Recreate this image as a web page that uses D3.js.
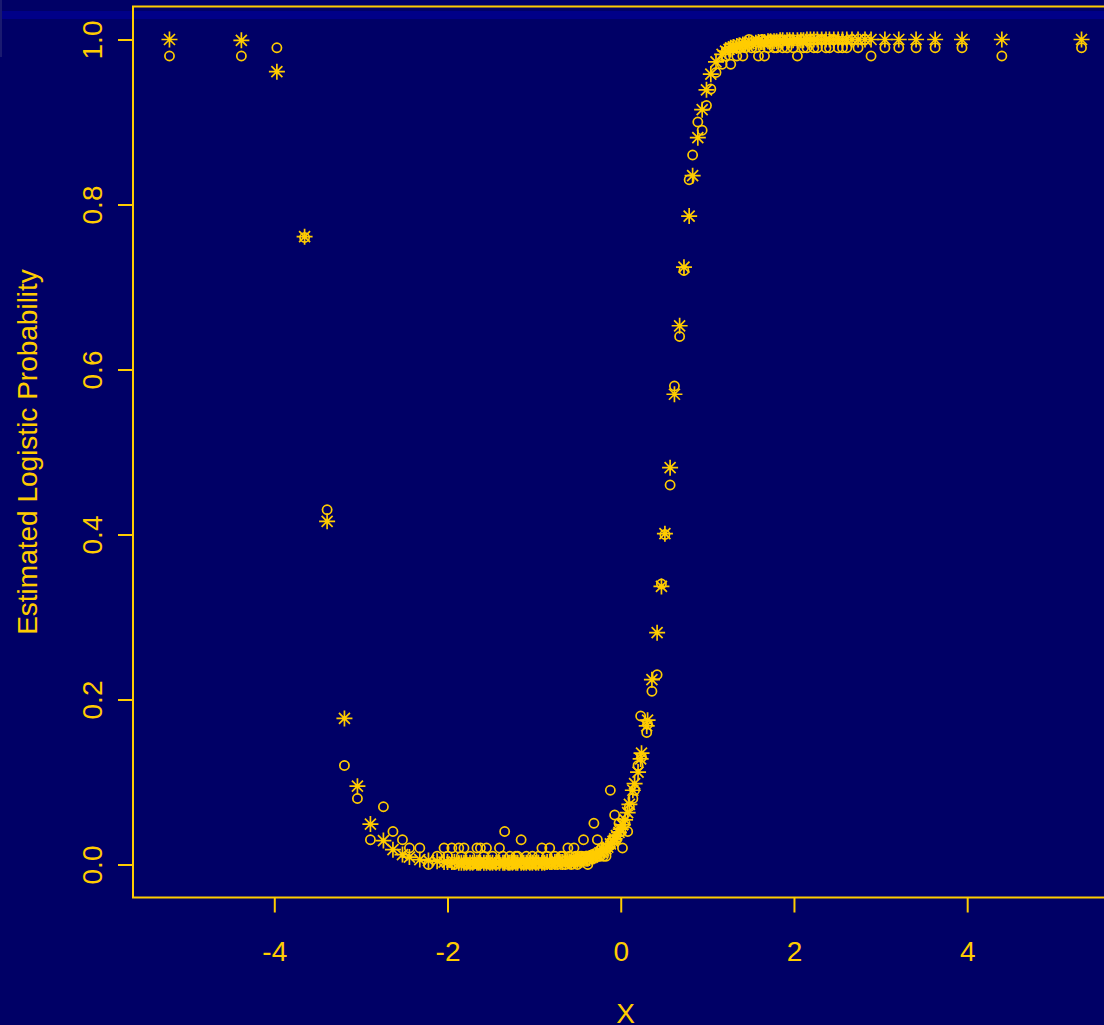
<!DOCTYPE html>
<meta charset="utf-8">
<style>
  body { margin: 0; background: #000066; }
  svg { display: block; }
</style>
<svg width="1104" height="1025"></svg>
<script src="https://d3js.org/d3.v7.min.js"></script>
<script>
// x values, fitted logistic probability (asterisks), observed proportion (circles)
var xValues = [
  -5.21, -4.38, -3.97, -3.65, -3.39, -3.19, -3.04, -2.89, -2.74, -2.63,
  -2.52, -2.44, -2.32, -2.22, -2.12, -2.04, -2.00, -1.95, -1.92, -1.87,
  -1.84, -1.81, -1.78, -1.74, -1.71, -1.66, -1.64, -1.62, -1.58, -1.55,
  -1.51, -1.48, -1.44, -1.40, -1.36, -1.34, -1.30, -1.28, -1.25, -1.21,
  -1.19, -1.15, -1.12, -1.09, -1.05, -1.02, -0.98, -0.95, -0.91, -0.88,
  -0.85, -0.82, -0.80, -0.76, -0.73, -0.69, -0.67, -0.64, -0.61, -0.59,
  -0.57, -0.54, -0.52, -0.50, -0.47, -0.45, -0.43, -0.40, -0.38, -0.36,
  -0.33, -0.31, -0.29, -0.27, -0.24, -0.22, -0.20, -0.17, -0.15, -0.12,
  -0.09, -0.07, -0.05, -0.02, 0.00, 0.02, 0.05, 0.08, 0.10, 0.14,
  0.16, 0.20, 0.23, 0.24, 0.30, 0.31, 0.36, 0.42, 0.47, 0.51,
  0.57, 0.62, 0.68, 0.73, 0.79, 0.83, 0.89, 0.94, 0.99, 1.04,
  1.10, 1.17, 1.21, 1.25, 1.27, 1.30, 1.34, 1.37, 1.41, 1.44,
  1.48, 1.51, 1.56, 1.59, 1.63, 1.66, 1.70, 1.73, 1.77, 1.80,
  1.84, 1.87, 1.92, 1.95, 1.99, 2.04, 2.08, 2.11, 2.15, 2.19,
  2.23, 2.27, 2.32, 2.37, 2.41, 2.46, 2.51, 2.56, 2.61, 2.67,
  2.74, 2.82, 2.89, 3.05, 3.21, 3.41, 3.63, 3.94, 4.40, 5.32
];
var fitted = [
  1.000, 0.999, 0.961, 0.761, 0.416, 0.177, 0.095, 0.049, 0.029, 0.018,
  0.012, 0.009, 0.006, 0.005, 0.004, 0.003, 0.003, 0.003, 0.003, 0.002,
  0.002, 0.002, 0.002, 0.002, 0.002, 0.002, 0.002, 0.002, 0.002, 0.002,
  0.002, 0.002, 0.002, 0.002, 0.002, 0.002, 0.002, 0.002, 0.002, 0.002,
  0.002, 0.002, 0.002, 0.002, 0.002, 0.002, 0.002, 0.002, 0.002, 0.002,
  0.003, 0.003, 0.003, 0.003, 0.003, 0.003, 0.003, 0.003, 0.004, 0.004,
  0.004, 0.004, 0.005, 0.005, 0.005, 0.006, 0.006, 0.007, 0.007, 0.008,
  0.009, 0.010, 0.011, 0.012, 0.014, 0.015, 0.017, 0.019, 0.021, 0.025,
  0.028, 0.031, 0.035, 0.039, 0.043, 0.048, 0.054, 0.063, 0.073, 0.090,
  0.098, 0.112, 0.128, 0.135, 0.168, 0.175, 0.224, 0.281, 0.337, 0.401,
  0.481, 0.570, 0.653, 0.724, 0.786, 0.835, 0.881, 0.915, 0.939, 0.958,
  0.973, 0.982, 0.986, 0.988, 0.990, 0.991, 0.992, 0.993, 0.994, 0.995,
  0.995, 0.996, 0.996, 0.997, 0.997, 0.997, 0.998, 0.998, 0.998, 0.998,
  0.999, 0.999, 0.999, 0.999, 0.999, 0.999, 0.999, 0.999, 1.000, 1.000,
  1.000, 1.000, 1.000, 1.000, 1.000, 1.000, 1.000, 1.000, 1.000, 1.000,
  1.000, 1.000, 1.000, 1.000, 1.000, 1.000, 1.000, 1.000, 1.000, 1.000
];
var observed = [
  0.98, 0.98, 0.99, 0.76, 0.43, 0.12, 0.08, 0.03, 0.07, 0.04,
  0.03, 0.02, 0.02, 0.00, 0.01, 0.02, 0.01, 0.02, 0.00, 0.02,
  0.01, 0.02, 0.00, 0.01, 0.00, 0.02, 0.00, 0.02, 0.01, 0.02,
  0.00, 0.01, 0.00, 0.02, 0.01, 0.04, 0.00, 0.01, 0.00, 0.01,
  0.01, 0.03, 0.00, 0.01, 0.00, 0.01, 0.00, 0.01, 0.02, 0.00,
  0.01, 0.02, 0.00, 0.01, 0.00, 0.01, 0.01, 0.00, 0.02, 0.01,
  0.00, 0.02, 0.01, 0.00, 0.01, 0.01, 0.03, 0.01, 0.00, 0.01,
  0.01, 0.05, 0.01, 0.03, 0.01, 0.02, 0.01, 0.01, 0.02, 0.09,
  0.03, 0.06, 0.03, 0.05, 0.04, 0.02, 0.05, 0.04, 0.07, 0.08,
  0.09, 0.12, 0.18, 0.13, 0.16, 0.17, 0.21, 0.23, 0.34, 0.40,
  0.46, 0.58, 0.64, 0.72, 0.83, 0.86, 0.90, 0.89, 0.92, 0.94,
  0.96, 0.97, 0.98, 0.99, 0.97, 0.99, 0.98, 0.99, 0.98, 0.99,
  1.00, 0.99, 0.99, 0.98, 1.00, 0.98, 0.99, 1.00, 0.99, 0.99,
  1.00, 0.99, 0.99, 1.00, 0.99, 0.98, 1.00, 0.99, 0.99, 1.00,
  0.99, 0.99, 1.00, 0.99, 0.99, 1.00, 0.99, 0.99, 0.99, 1.00,
  0.99, 1.00, 0.98, 0.99, 0.99, 0.99, 0.99, 0.99, 0.98, 0.99
];
var xTicks = [-4, -2, 0, 2, 4];
var yTicks = [0.0, 0.2, 0.4, 0.6, 0.8, 1.0];

var gold = "#FFCC00";
var svg = d3.select("svg");

svg.append("rect").attr("width", 1104).attr("height", 1025).attr("fill", "#000066");
// lighter strip near the top of the original capture
svg.append("rect").attr("x", 0).attr("y", 11).attr("width", 1104).attr("height", 8).attr("fill", "#000088");
svg.append("rect").attr("x", 0).attr("y", 0).attr("width", 2).attr("height", 57).attr("fill", "#1a1a70");

var plotLeft = 133, plotRight = 1118, plotTop = 6.5, plotBottom = 897.5;

var xExt = d3.extent(xValues), xPad = (xExt[1] - xExt[0]) * 0.04;
var x = d3.scaleLinear().domain([xExt[0] - xPad, xExt[1] + xPad]).range([plotLeft, plotRight]);
var y = d3.scaleLinear().domain([-0.04, 1.04]).range([plotBottom, plotTop]);

var xAxis = svg.append("g")
    .attr("transform", "translate(0," + plotBottom + ")")
    .call(d3.axisBottom(x).tickValues(xTicks).tickSize(15).tickFormat(d3.format("d")));
xAxis.select(".domain").remove();
xAxis.selectAll("line").attr("stroke", gold).attr("stroke-width", 2);
xAxis.selectAll("text")
    .attr("y", 63).attr("dy", 0)
    .attr("fill", gold)
    .attr("font-family", "Liberation Sans, Arial, sans-serif")
    .attr("font-size", 28)
    .text(function(d) { return d < 0 ? "-" + Math.abs(d) : d; });

var yAxis = svg.append("g")
    .attr("transform", "translate(" + plotLeft + ",0)")
    .call(d3.axisLeft(y).tickValues(yTicks).tickSize(15).tickFormat(d3.format(".1f")));
yAxis.select(".domain").remove();
yAxis.selectAll("line").attr("stroke", gold).attr("stroke-width", 2);
yAxis.selectAll("text")
    .attr("x", 0).attr("y", 0).attr("dy", 0)
    .attr("transform", "translate(-31,0) rotate(-90)")
    .attr("text-anchor", "middle")
    .attr("fill", gold)
    .attr("font-family", "Liberation Sans, Arial, sans-serif")
    .attr("font-size", 28);

svg.append("rect")
    .attr("x", plotLeft).attr("y", plotTop)
    .attr("width", plotRight - plotLeft).attr("height", plotBottom - plotTop)
    .attr("fill", "none").attr("stroke", gold).attr("stroke-width", 2);

svg.append("text")
    .attr("transform", "translate(37," + ((plotTop + plotBottom) / 2) + ") rotate(-90)")
    .attr("text-anchor", "middle")
    .attr("fill", gold)
    .attr("font-family", "Liberation Sans, Arial, sans-serif")
    .attr("font-size", 28)
    .text("Estimated Logistic Probability");

svg.append("text")
    .attr("x", (plotLeft + plotRight) / 2).attr("y", 1023)
    .attr("text-anchor", "middle")
    .attr("fill", gold)
    .attr("font-family", "Liberation Sans, Arial, sans-serif")
    .attr("font-size", 28)
    .text("X");

var pts = d3.range(xValues.length).map(function(i) {
    return { x: xValues[i], fit: fitted[i], obs: observed[i] };
});

svg.append("g").selectAll("circle")
    .data(pts)
    .enter().append("circle")
    .attr("cx", function(d) { return x(d.x); })
    .attr("cy", function(d) { return y(d.obs); })
    .attr("r", 4.6)
    .attr("fill", "none")
    .attr("stroke", gold)
    .attr("stroke-width", 1.7);

var star = "M-8,0H8M0,-8V8M-5.5,-5.5L5.5,5.5M-5.5,5.5L5.5,-5.5";
svg.append("g").selectAll("path")
    .data(pts)
    .enter().append("path")
    .attr("d", star)
    .attr("transform", function(d) { return "translate(" + x(d.x) + "," + y(d.fit) + ")"; })
    .attr("fill", "none")
    .attr("stroke", gold)
    .attr("stroke-width", 1.7);
</script>
